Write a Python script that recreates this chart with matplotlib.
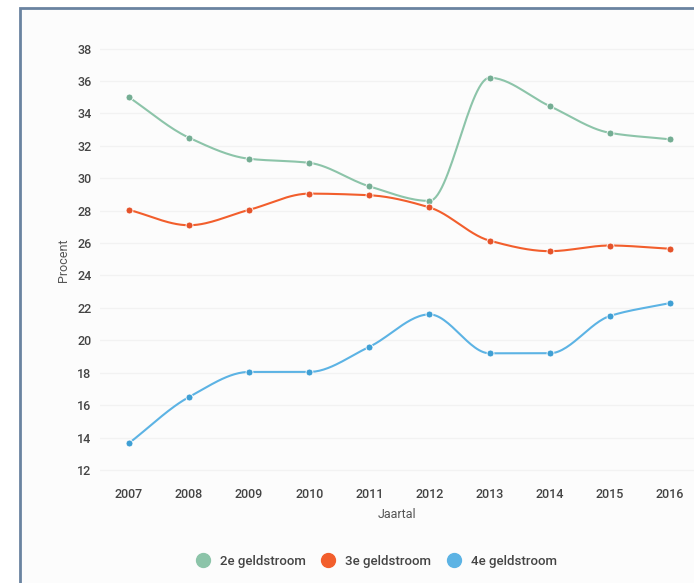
import numpy as np
import matplotlib.pyplot as plt
from matplotlib.patches import Rectangle
from matplotlib.lines import Line2D

plt.rcParams['font.family'] = ['Roboto', 'DejaVu Sans']

# data
years = [2007, 2008, 2009, 2010, 2011, 2012, 2013, 2014, 2015, 2016]
geld2 = [35.0, 32.5, 31.2, 30.95, 29.5, 28.6, 36.2, 34.45, 32.8, 32.4]
geld3 = [28.05, 27.1, 28.05, 29.05, 28.95, 28.2, 26.15, 25.5, 25.85, 25.65]
geld4 = [13.65, 16.5, 18.05, 18.05, 19.6, 21.6, 19.2, 19.2, 21.5, 22.3]
labels = ['2e geldstroom', '3e geldstroom', '4e geldstroom']
colors = ['#8cc4a9', '#f25e2c', '#5cb3e4']
dot_colors = ['#74ad93', '#e5532a', '#3f9fd4']
yticks = list(range(12, 39, 2))


def monotone(x, y, n=30):
    # monotone cubic (like d3 curveMonotoneX), only to draw the curve
    x = np.asarray(x, float)
    y = np.asarray(y, float)
    h = np.diff(x)
    d = np.diff(y) / h
    m = np.zeros_like(y)
    m[0], m[-1] = d[0], d[-1]
    for i in range(1, len(y) - 1):
        if d[i - 1] * d[i] <= 0:
            m[i] = 0
        else:
            m[i] = (3 * (h[i - 1] + h[i])) / ((2 * h[i] + h[i - 1]) / d[i - 1] + (h[i] + 2 * h[i - 1]) / d[i])
    xs, ys = [], []
    for i in range(len(x) - 1):
        t = np.linspace(0, 1, n)
        h00 = 2 * t**3 - 3 * t**2 + 1
        h10 = t**3 - 2 * t**2 + t
        h01 = -2 * t**3 + 3 * t**2
        h11 = t**3 - t**2
        xs.append(x[i] + t * h[i])
        ys.append(h00 * y[i] + h10 * h[i] * m[i] + h01 * y[i + 1] + h11 * h[i] * m[i + 1])
    return np.concatenate(xs), np.concatenate(ys)


fig = plt.figure(figsize=(6.94, 5.83), dpi=100)
fig.patches.append(Rectangle((20 / 694, -0.05), 1.0, (583 - 8) / 583 + 0.05, transform=fig.transFigure,
                             facecolor='#fcfcfc', edgecolor='#6a83a0', linewidth=2, zorder=-10))

ax = fig.add_axes([100 / 694, (583 - 476.5) / 583, 594 / 694, 432 / 583])
ax.set_facecolor('none')
ax.set_xlim(2006.52, 2016.4)
ax.set_ylim(11.6, 38.25)

for vals, c, dc in zip([geld2, geld3, geld4], colors, dot_colors):
    sx, sy = monotone(years, vals)
    ax.plot(sx, sy, color=c, lw=1.5, zorder=3)
    ax.plot(years, vals, 'o', color=dc, ms=5, mec='white', mew=0.6, zorder=4)

ax.set_yticks(yticks)
ax.set_xticks(years)
ax.grid(axis='y', color='#f2f2f2', lw=1)
ax.tick_params(length=0, labelsize=9, labelcolor='#444444')
ax.tick_params(axis='x', pad=8)
ax.tick_params(axis='y', pad=6)
for lab in ax.get_xticklabels() + ax.get_yticklabels():
    lab.set_fontweight('medium')
for s in ax.spines.values():
    s.set_visible(False)
ax.set_xlabel('Jaartal', fontsize=9, color='#555555', labelpad=5)
ax.set_ylabel('Procent', fontsize=9, color='#555555', labelpad=5)

handles = [Line2D([], [], ls='none', marker='o', ms=10, color=c) for c in colors]
leg = fig.legend(handles, labels, loc='center', bbox_to_anchor=(373 / 694, 1 - 561 / 583), ncol=3,
                 frameon=False, fontsize=9.5, labelcolor='#444444', handletextpad=0.3, columnspacing=0.7)
for t in leg.get_texts():
    t.set_fontweight('medium')

fig.savefig('out.png', dpi=100)
